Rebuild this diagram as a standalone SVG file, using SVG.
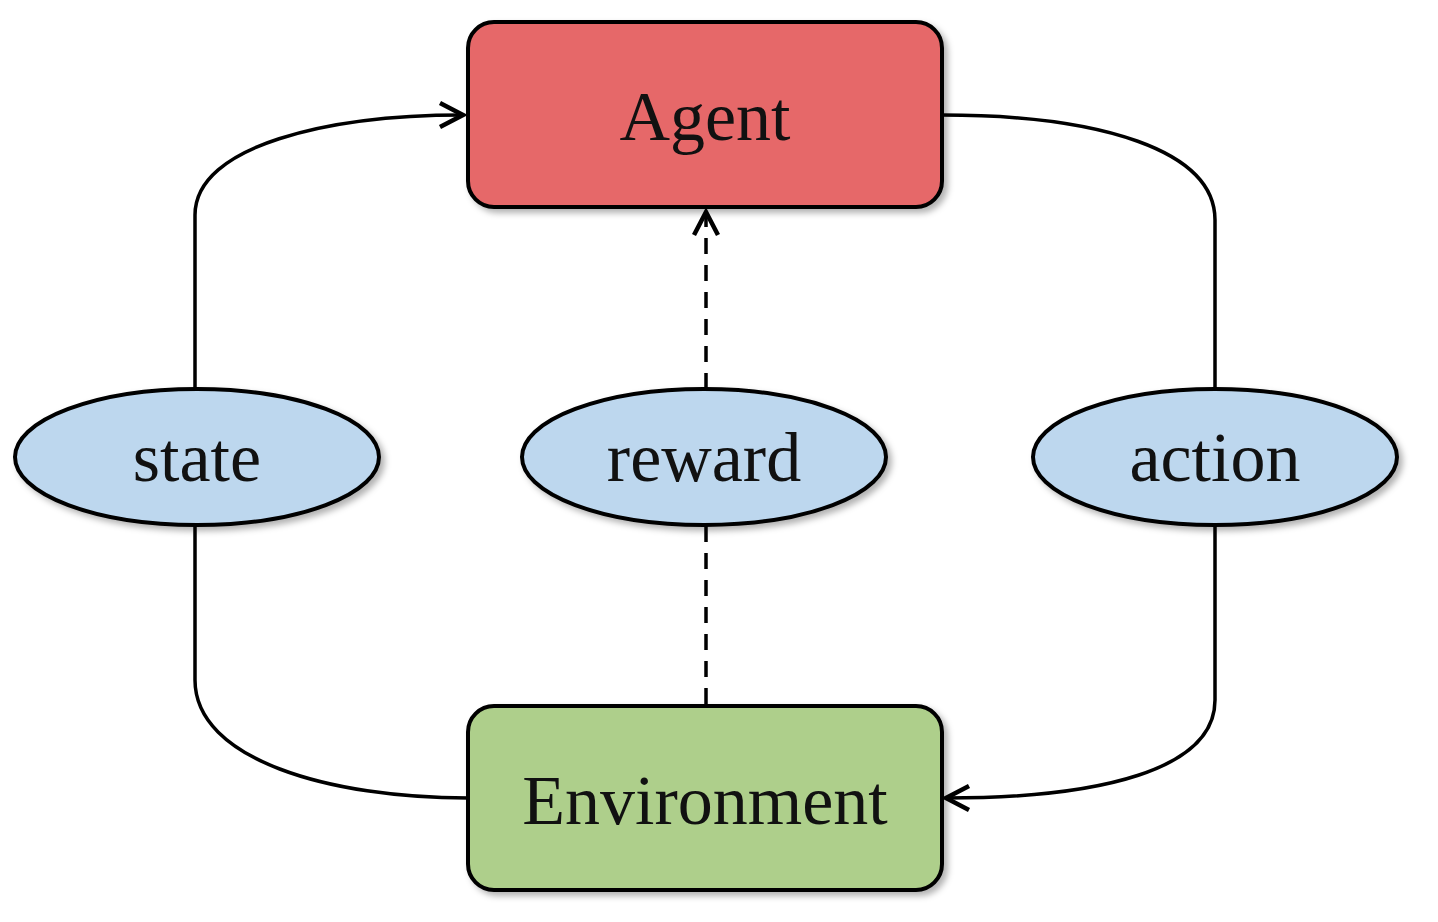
<svg xmlns="http://www.w3.org/2000/svg" width="1438" height="922" viewBox="0 0 1438 922">
<defs>
<marker id="ah" viewBox="0 0 30 30" refX="27" refY="15" markerWidth="30" markerHeight="30" markerUnits="userSpaceOnUse" orient="auto">
<path d="M4,3 L27,15 L4,27" fill="none" stroke="#000" stroke-width="4.5" stroke-linejoin="miter"/>
</marker>
<filter id="sh" x="-10%" y="-10%" width="130%" height="130%"><feDropShadow dx="4" dy="4" stdDeviation="3" flood-color="#000" flood-opacity="0.3"/></filter>
</defs>
<style>
.n{stroke:#000;stroke-width:4;filter:url(#sh)}
.t{font-family:"Liberation Serif",serif;font-size:70px;text-anchor:middle;dominant-baseline:central;fill:#111}
.c{fill:none;stroke:#000;stroke-width:3.5}
.d{stroke-dasharray:16 11}
</style>
<rect width="1438" height="922" fill="#fff"/>
<g id="connectors">
<path class="c" d="M195,389 V215 C195,145 330,115 463,115" marker-end="url(#ah)"/>
<path class="c" d="M195,526 V680 C195,760 330,798 468,798"/>
<path class="c" d="M942,115 C1100,115 1215,150 1215,220 V389"/>
<path class="c" d="M1215,526 V700 C1215,770 1100,798 946,798" marker-end="url(#ah)"/>
<path class="c d" d="M706,389 V212" marker-end="url(#ah)"/>
<path class="c d" d="M706,526 V706"/>
</g>
<g id="agent"><rect class="n" x="468" y="22" width="474" height="185" rx="26" fill="#E66869"/><text class="t" x="705" y="116">Agent</text></g>
<g id="environment"><rect class="n" x="468" y="706" width="474" height="184" rx="26" fill="#AECF8B"/><text class="t" x="705" y="800">Environment</text></g>
<g id="state"><ellipse class="n" cx="197" cy="457" rx="182" ry="68" fill="#BDD7EE"/><text class="t" x="197" y="457">state</text></g>
<g id="reward"><ellipse class="n" cx="704" cy="457" rx="182" ry="68" fill="#BDD7EE"/><text class="t" x="704" y="457">reward</text></g>
<g id="action"><ellipse class="n" cx="1215" cy="457" rx="182" ry="68" fill="#BDD7EE"/><text class="t" x="1215" y="457">action</text></g>
</svg>
